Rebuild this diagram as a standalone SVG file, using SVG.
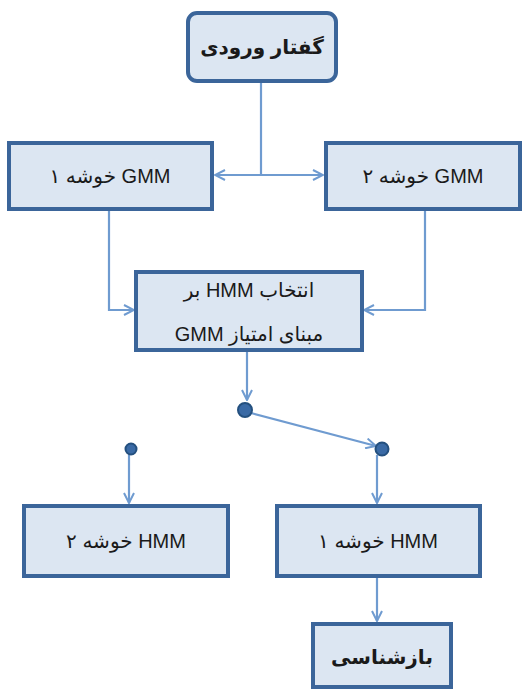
<svg xmlns="http://www.w3.org/2000/svg" width="523" height="691" viewBox="0 0 523 691">
<style>
.box{fill:#dce6f2;stroke:#3b659a;stroke-width:4}
.t{font-family:"Liberation Sans","DejaVu Sans",sans-serif;font-size:20px;fill:#1a1a1a;text-anchor:middle;direction:rtl}
.c{fill:none;stroke:#6f9bd0;stroke-width:2.2}
.dot{fill:#3a6aa5;stroke:#24507f;stroke-width:2}
</style>
<defs>
<marker id="ah" viewBox="0 0 12 12" refX="11" refY="6" markerWidth="12" markerHeight="12" markerUnits="userSpaceOnUse" orient="auto">
<path d="M1,1 L11,6 L1,11" fill="none" stroke="#6f9bd0" stroke-width="2"/>
</marker>
</defs>
<g id="connectors">
<path class="c" d="M261,82 V175"/>
<path class="c" d="M261,175 H215" marker-end="url(#ah)"/>
<path class="c" d="M261,175 H323" marker-end="url(#ah)"/>
<path class="c" d="M109,210 V310 H134" marker-end="url(#ah)"/>
<path class="c" d="M425,210 V310 H364" marker-end="url(#ah)"/>
<path class="c" d="M247,351 V400" marker-end="url(#ah)"/>
<path class="c" d="M251,413 L376,446" marker-end="url(#ah)"/>
<path class="c" d="M129,455 V503" marker-end="url(#ah)"/>
<path class="c" d="M377,455 V503" marker-end="url(#ah)"/>
<path class="c" d="M377,577 V621" marker-end="url(#ah)"/>
</g>
<g id="n-dot1"><circle class="dot" cx="245" cy="410" r="7"/></g>
<g id="n-dot2"><circle class="dot" cx="131" cy="449" r="5.5"/></g>
<g id="n-dot3"><circle class="dot" cx="382" cy="449" r="6.5"/></g>
<g id="n-input"><rect class="box" x="188" y="13" width="148" height="68" rx="9"/><text class="t" x="262" y="54" font-weight="bold">گفتار ورودی</text></g>
<g id="n-gmm1"><rect class="box" x="9" y="143" width="203" height="66"/><text class="t" x="110" y="183">GMM خوشه ۱</text></g>
<g id="n-gmm2"><rect class="box" x="326" y="143" width="194" height="66"/><text class="t" x="423" y="183">GMM خوشه ۲</text></g>
<g id="n-select"><rect class="box" x="136" y="272" width="226" height="78"/><text class="t" x="249" y="297" font-size="21">انتخاب HMM بر</text><text class="t" x="249" y="341" font-size="21">مبنای امتیاز GMM</text></g>
<g id="n-hmm2"><rect class="box" x="24" y="506" width="204" height="70"/><text class="t" x="126" y="548">HMM خوشه ۲</text></g>
<g id="n-hmm1"><rect class="box" x="277" y="506" width="203" height="70"/><text class="t" x="378" y="548">HMM خوشه ۱</text></g>
<g id="n-recog"><rect class="box" x="313" y="624" width="138" height="63"/><text class="t" x="382" y="664" font-weight="bold">بازشناسی</text></g>
</svg>
